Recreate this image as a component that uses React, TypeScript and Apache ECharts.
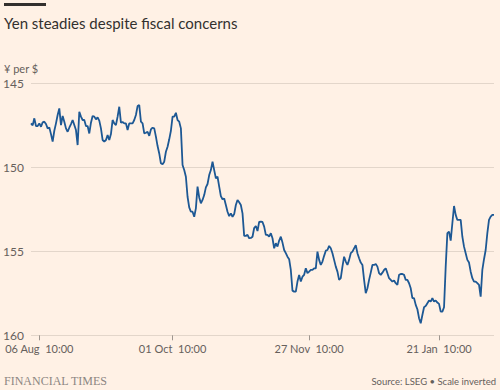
import React, { useEffect, useRef } from "react";
import * as echarts from "echarts";

// ---- data ----
const TITLE = "Yen steadies despite fiscal concerns";
const UNIT = "¥ per $";
const SOURCE = "Source: LSEG • Scale inverted";
const BRAND = "FINANCIAL TIMES";

const tickLabels = ["06 Aug  10:00", "01 Oct  10:00", "27 Nov  10:00", "21 Jan  10:00"];
const yTicks = [145, 150, 155, 160];

// USD/JPY, two readings per trading day (10:00 and 22:00), from 1 Aug 2025 22:00
const augSep = [
  147.38, 147.5, 147.08, 147.54, 147.54, 147.38, 147.58, 147.32, 147.28, 147.42,
  147.68, 147.62, 148.02, 148.47, 147.82, 147.38, 146.88, 146.49, 147.48, 146.94,
  147.28, 147.68, 147.88, 147.64, 147.42, 147.18, 147.48, 147.78, 148.67, 146.69,
  146.98, 147.18, 147.18, 147.54, 147.54, 147.98, 147.34, 146.94, 146.98, 147.14,
  147.02, 147.22, 147.68, 148.37, 148.47, 148.37, 148.08, 148.37, 148.02, 147.18,
  147.38, 147.48, 146.98, 146.39, 147.34, 147.3, 147.38, 147.38, 147.78, 147.38,
  147.38, 147.38, 147.18, 146.88, 146.35, 146.29, 147.28, 147.38, 147.98, 147.94,
  147.88, 148.12, 147.74, 147.64, 147.68, 148.17, 148.73, 149.17, 149.76, 149.82,
  149.66, 149.07, 148.77, 148.33, 147.82,
];
const octNov = [
  146.98, 146.98, 146.75, 147.18, 147.28,
  147.68, 149.86, 150.16, 150.56, 151.75, 152.38, 152.64, 152.64, 152.94, 152.44,
  151.15, 151.79, 152.14, 151.94, 151.65, 151.19, 150.99, 150.46, 150.16, 149.66,
  150.16, 150.65, 150.56, 151.15, 151.71, 151.9, 151.85, 152.24, 152.64, 152.9,
  152.74, 152.94, 152.78, 152.24, 151.94, 152.08, 152.24, 152.74, 154.08, 154.08,
  154.02, 154.22, 154.2, 154.13, 153.61, 153.49, 153.79, 153.25, 153.23, 153.25,
  153.53, 154.02, 154.02, 154.13, 153.92, 154.22, 154.82, 154.52, 154.72, 154.36,
  154.13, 154.48, 154.92, 155.11, 155.32, 155.47, 156.11, 157.34, 157.4, 157.4,
  156.8, 156.4, 156.8, 156.51, 156.4, 156.01, 156.3,
];
const decJan = [
  156.21, 156.11, 156.11,
  156.01, 156.01, 155.02, 155.51, 155.81, 155.61, 155.27, 154.96, 154.92, 154.68,
  154.82, 155.11, 155.51, 155.91, 156.21, 156.7, 156.6, 155.91, 155.32, 155.61,
  155.81, 155.51, 155.11, 155.02, 154.82, 154.64, 155.11, 155.41, 155.67, 155.81,
  156.7, 157.49, 157.2, 156.7, 156.27, 155.81, 155.81, 155.75, 155.91, 156.3,
  156.4, 156.27, 156.11, 156.01, 156.3, 156.6, 156.7, 156.8, 156.74, 156.9,
  157.0, 156.4, 156.35, 156.35, 156.4, 156.7, 156.7, 156.9, 157.2, 157.79,
  157.79, 158.19, 158.45, 158.98, 159.28, 158.79, 158.33, 158.25, 158.09, 157.93,
  157.99, 157.79, 157.99, 157.93, 158.05,
];
const janFeb = [
  158.13, 158.59, 158.59, 158.33, 155.91,
  153.92, 153.83, 154.36, 153.33, 152.3, 152.83, 153.13, 153.13, 153.13, 154.13,
  154.72, 155.11, 155.51, 155.67, 156.21, 156.6, 156.8, 156.8, 156.9, 157.0,
  157.7, 156.11, 155.47, 154.92, 153.92, 153.13, 152.93, 152.83, 152.83,
];
const values = [...augSep, ...octNov, ...decJan, ...janFeb];

const MONTHS = ["Jan", "Feb", "Mar", "Apr", "May", "Jun", "Jul", "Aug", "Sep", "Oct", "Nov", "Dec"];
const FIRST_READING = Date.UTC(2025, 7, 1, 22, 0);
const HALF_DAY = 12 * 3600 * 1000;

function buildCategories(n: number): string[] {
  const out: string[] = [];
  let t = FIRST_READING;
  while (out.length < n) {
    const d = new Date(t);
    const wd = d.getUTCDay();
    if (wd !== 0 && wd !== 6) {
      const dd = String(d.getUTCDate()).padStart(2, "0");
      const hh = String(d.getUTCHours()).padStart(2, "0");
      out.push(`${dd} ${MONTHS[d.getUTCMonth()]}  ${hh}:00`);
    }
    t += HALF_DAY;
  }
  return out;
}
const categories = buildCategories(values.length);

const FONT = "Lato, 'Noto Sans', sans-serif";

export default function App() {
  const ref = useRef<HTMLDivElement>(null);
  useEffect(() => {
    document.body.style.margin = "0";
    document.body.style.background = "#FFF1E5";
    if (!ref.current) return;
    const chart = echarts.init(ref.current, undefined, { renderer: "svg" });
    const showTick = (_i: number, v: string) => tickLabels.includes(v);
    chart.setOption({
      animation: false,
      backgroundColor: "#FFF1E5",
      grid: { left: 30, right: 6, top: 83.4, bottom: 54.7 },
      xAxis: {
        type: "category",
        data: categories,
        boundaryGap: false,
        axisLine: { show: false },
        axisTick: { show: true, interval: showTick, length: 5, lineStyle: { color: "#9E968F", width: 1 } },
        axisLabel: {
          interval: showTick,
          color: "#66605C",
          fontSize: 11,
          fontFamily: FONT,
          margin: 8,
        },
        splitLine: { show: false },
      },
      yAxis: {
        type: "value",
        inverse: true,
        min: yTicks[0],
        max: yTicks[yTicks.length - 1],
        interval: 5,
        axisLine: { show: false },
        axisTick: { show: false },
        axisLabel: {
          align: "left",
          margin: 28,
          color: "#66605C",
          fontSize: 12,
          fontFamily: FONT,
        },
        splitLine: { lineStyle: { color: "#E3D6CA", width: 1 } },
      },
      series: [
        {
          type: "line",
          data: values,
          showSymbol: false,
          symbol: "none",
          lineStyle: { color: "#1D5894", width: 1.8 },
        },
      ],
      graphic: [
        { type: "rect", shape: { x: 4, y: 3, width: 42, height: 3 }, style: { fill: "#33302E" } },
        {
          type: "text",
          x: 4,
          y: 23,
          style: { text: TITLE, fontSize: 15, fontFamily: FONT, fill: "#33302E", verticalAlign: "middle" },
        },
        {
          type: "text",
          x: 4,
          y: 68,
          style: { text: UNIT, fontSize: 11, fontFamily: FONT, fill: "#66605C", verticalAlign: "middle" },
        },
        {
          type: "text",
          x: 4,
          y: 381,
          style: { text: BRAND, fontSize: 12, fontFamily: "'Liberation Serif', serif", fill: "#8C8682", verticalAlign: "middle" },
        },
        {
          type: "text",
          x: 496,
          y: 381.5,
          style: { text: SOURCE, fontSize: 9.5, fontFamily: FONT, fill: "#66605C", align: "right", verticalAlign: "middle" },
        },
      ],
    });
    return () => chart.dispose();
  }, []);
  return <div ref={ref} style={{ width: 500, height: 390 }} />;
}
